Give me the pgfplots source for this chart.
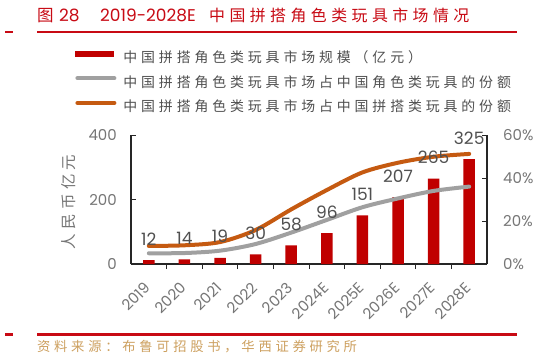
\documentclass[border=0pt]{standalone}
\usepackage{pgfplots}
\pgfplotsset{compat=1.18}
\usepackage{fontspec}
\setmainfont{Poppins}
\newfontfamily\cjk[LetterSpace=28]{Noto Sans CJK SC}
\newfontfamily\cjkplain{Noto Sans CJK SC}
\definecolor{barred}{RGB}{192,0,0}
\definecolor{titlered}{RGB}{200,10,20}
\definecolor{orangecol}{RGB}{197,90,17}
\definecolor{graycol}{RGB}{160,160,160}
\definecolor{ticklab}{RGB}{118,118,118}
\definecolor{datalab}{RGB}{80,80,80}
\definecolor{legtext}{RGB}{80,80,80}
\definecolor{srccol}{RGB}{205,160,95}
\begin{document}
\begin{tikzpicture}[x=1pt,y=1pt]
\path[use as bounding box, fill=white] (0,0) rectangle (553,-361);
% title
\node[anchor=base west, inner sep=0, text=titlered, font=\cjkplain\fontsize{16.5}{16.5}\selectfont] at (37,-21.5) {图};
\node[anchor=base west, inner sep=0, text=titlered, font=\fontsize{17}{17}\selectfont] at (59,-21.5) {28};
\node[anchor=base west, inner sep=0, text=titlered, font=\fontsize{17}{17}\selectfont] at (100,-21.5) {2019-2028E};
\node[anchor=base west, inner sep=0, text=titlered, font=\cjk\fontsize{15.9}{15.9}\selectfont] at (209,-21.5) {中国拼搭角色类玩具市场情况};
\fill[titlered] (5,-30.7) rectangle (13.3,-33.3);
\fill[titlered] (37,-31) rectangle (517,-33);
% bottom
\fill[titlered] (5,-333) rectangle (13.3,-335.5);
\fill[titlered] (37,-333) rectangle (517,-336);
\node[anchor=base west, inner sep=0, text=srccol, font=\cjk\fontsize{13.3}{13.3}\selectfont] at (37,-351.5) {资料来源：布鲁可招股书，华西证券研究所};
% y label
\node[rotate=90, inner sep=0, text=ticklab, font=\cjk\fontsize{15.5}{15.5}\selectfont] at (69,-202) {人民币亿元};

% bars axis
\begin{axis}[
 at={(131pt,-264pt)}, anchor=south west, scale only axis, width=356pt, height=129pt,
 clip=false,
 xmin=-0.5, xmax=9.5, ymin=0, ymax=400,
 axis x line*=bottom, axis y line*=left,
 axis line style={line width=1.3pt, black!85, -},
 xtick={0,...,9},
 xticklabels={2019,2020,2021,2022,2023,2024E,2025E,2026E,2027E,2028E},
 major x tick style={draw=none},
 minor xtick={0.5,1.5,...,8.5},
 minor x tick style={line width=1pt, black!85},
 minor tick length=5pt,
 ytick={0,200,400},
 major tick length=5pt,
 tick align=inside,
 y tick style={line width=1pt, black!85},
 tick label style={font=\fontsize{15}{15}\selectfont, text=ticklab},
 /pgf/number format/assume math mode=true,
 yticklabel style={inner sep=0pt, xshift=-14pt},
 xticklabel style={xshift=-5pt, yshift=-12pt, rotate=45, anchor=north east, inner sep=0pt},
 ybar, bar width=11.5pt,
]
\addplot[fill=barred, draw=none] coordinates {(0,12) (1,14) (2,19) (3,30) (4,58) (5,96) (6,151) (7,207) (8,265) (9,325)};
\end{axis}

% lines axis
\begin{axis}[
 at={(131pt,-264pt)}, anchor=south west, scale only axis, width=356pt, height=129pt,
 clip=false,
 xmin=-0.5, xmax=9.5, ymin=0, ymax=60,
 axis x line=none, axis y line*=right,
 axis line style={line width=1.3pt, black!85, -},
 ytick={0,20,40,60},
 yticklabel={\pgfmathprintnumber{\tick}\%},
 major tick length=5pt,
 tick align=inside,
 y tick style={line width=1pt, black!85},
 tick label style={font=\fontsize{15}{15}\selectfont, text=ticklab},
 /pgf/number format/assume math mode=true,
 yticklabel style={inner sep=0pt, xshift=16pt},
 legend style={at={(-0.1573,1.655)}, anchor=north west, draw=none, fill=none, inner sep=0pt,
   row sep=10.75pt, column sep=7pt, font=\cjk\fontsize{13.9}{13.9}\selectfont, text=legtext,
   nodes={inner sep=0pt, text height=11pt, text depth=3pt}},
 legend cell align=left,
]
\addlegendimage{legend image code/.code={\fill[barred] (0pt,2.5pt) rectangle (38pt,7.5pt);}}
\addlegendentry{中国拼搭角色类玩具市场规模（亿元）}
\addplot[graycol, line width=4pt, smooth, tension=0.5, line cap=round,
  legend image code/.code={\draw[graycol, line width=4pt, line cap=round] (2pt,5pt) -- (39pt,5pt);}]
  coordinates {(0,5.0) (1,5.1) (2,6.2) (3,9.3) (4,14.6) (5,20.5) (6,26.4) (7,30.5) (8,34.0) (9,36.0)};
\addlegendentry{中国拼搭角色类玩具市场占中国角色类玩具的份额}
\addplot[orangecol, line width=4pt, smooth, tension=0.5, line cap=round,
  legend image code/.code={\draw[orangecol, line width=4pt, line cap=round] (2pt,5pt) -- (39pt,5pt);}]
  coordinates {(0,8.4) (1,8.7) (2,10.2) (3,15.8) (4,25.4) (5,34.4) (6,42.6) (7,47.1) (8,49.9) (9,51.2)};
\addlegendentry{中国拼搭角色类玩具市场占中国拼搭类玩具的份额}
\end{axis}

% data labels axis
\begin{axis}[
 at={(131pt,-264pt)}, anchor=south west, scale only axis, width=356pt, height=129pt,
 clip=false, hide axis,
 xmin=-0.5, xmax=9.5, ymin=0, ymax=400,
 /pgf/number format/assume math mode=true,
 nodes near coords,
 every node near coord/.append style={font=\fontsize{17}{17}\selectfont, text=datalab, anchor=base, inner sep=0pt, yshift=15pt},
]
\addplot[draw=none, mark=none] coordinates {(0,12) (1,14) (2,19) (3,30) (4,58) (5,96) (6,151) (7,207) (8,265) (9,325)};
\end{axis}
\end{tikzpicture}
\end{document}
